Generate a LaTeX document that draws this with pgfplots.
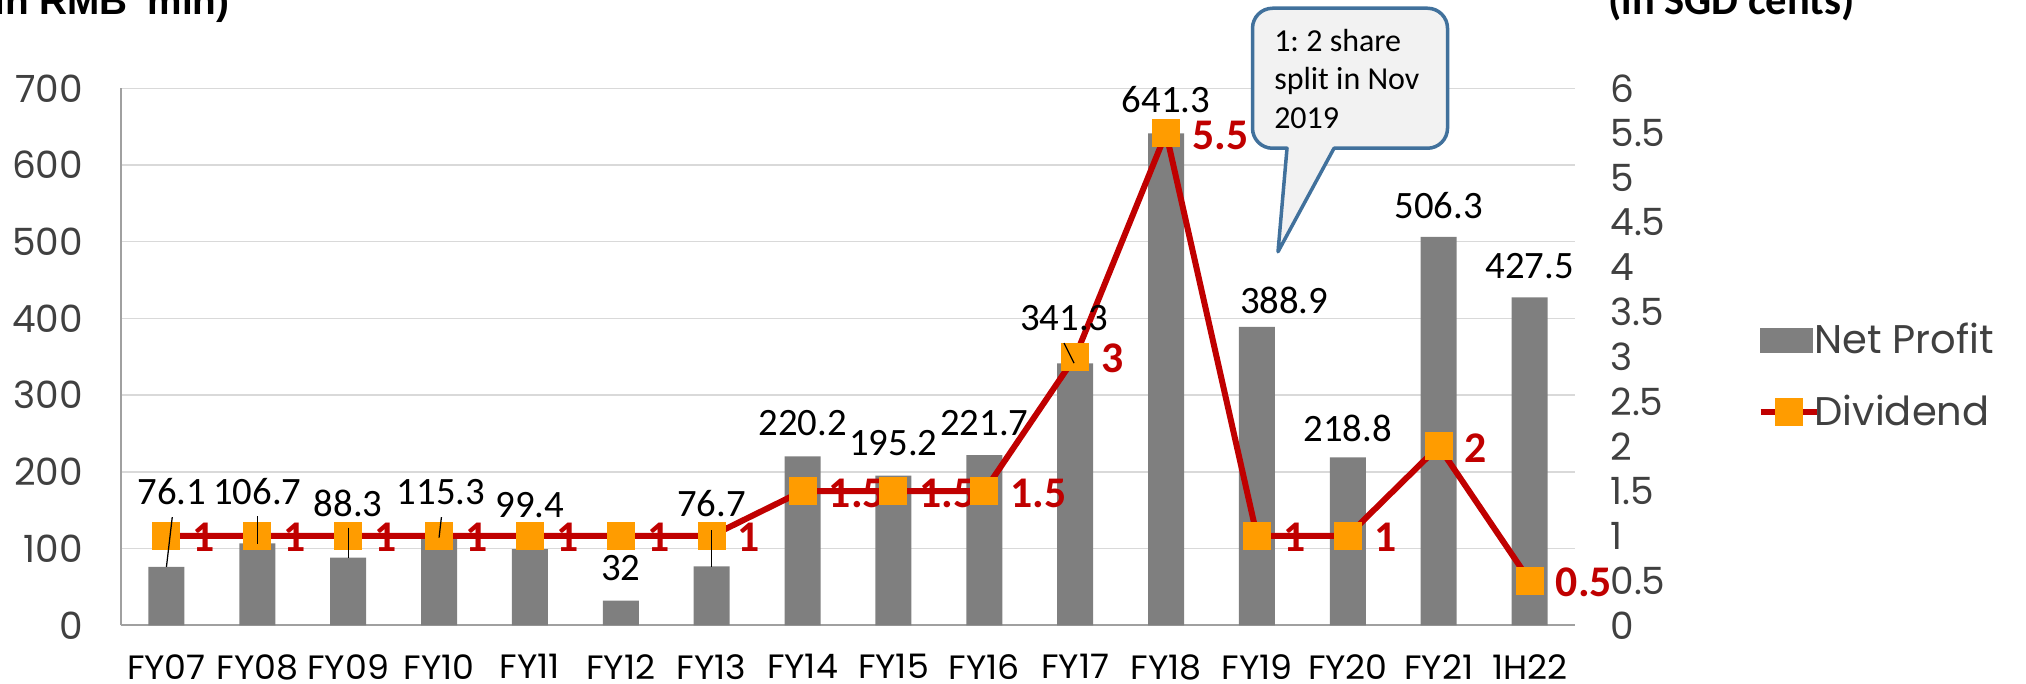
\documentclass[border=0pt]{standalone}
\usepackage{fontspec}
\usepackage{pgfplots}
\usepackage{pgfplotstable}
\pgfplotsset{compat=1.18}
\setmainfont{Carlito}
\newfontfamily\pop{Poppins}
\newfontfamily\popw{Poppins}[FakeStretch=1.03]
\newfontfamily\libsans{Liberation Sans}
\frenchspacing
\definecolor{barg}{HTML}{7F7F7F}
\definecolor{divred}{HTML}{C00000}
\definecolor{mko}{HTML}{FF9C00}
\definecolor{gridg}{HTML}{D9D9D9}
\definecolor{axg}{HTML}{A0A0A0}
\definecolor{tickg}{HTML}{404040}
\definecolor{callb}{HTML}{41719C}
\definecolor{callf}{HTML}{F2F2F2}

\pgfplotstableread{
x np
0 76.1
1 106.7
2 88.3
3 115.3
4 99.4
5 32
6 76.7
7 220.2
8 195.2
9 221.7
10 341.3
11 641.3
12 388.9
13 218.8
14 506.3
15 427.5
}\npdata

\pgfplotstableread{
x dv lab
0 1 1
1 1 1
2 1 1
3 1 1
4 1 1
5 1 1
6 1 1
7 1.5 1.5
8 1.5 1.5
9 1.5 1.5
10 3 3
11 5.5 5.5
12 1 1
13 1 1
14 2 2
15 0.5 0.5
}\dvdata

\pgfplotstableread{
x y lab
0.06 173.8 76.1
1 173.8 106.7
2 158.7 88.3
3.02 173.8 115.3
4 157 99.4
5 74 32
6 158 76.7
7 263.5 220.2
8 237.4 195.2
9 264 221.7
9.88 400.4 341.3
11 685.7 641.3
12.3 424 388.9
13 256 218.8
14 547 506.3
15 468 427.5
}\nplabels

\pgfplotsset{
  base/.style={at={(48.4pt,23.1pt)}, anchor=south west, scale only axis,
    width=581.6pt, height=214.8pt, xmin=-0.5, xmax=15.5},
  divleg/.style={legend image code/.code={\draw[mark repeat=2,mark phase=2,##1] plot coordinates {(0pt,0pt) (11.2pt,0pt) (22.4pt,0pt)};}},
  barleg/.style={legend image code/.code={\fill[barg] (0pt,-4.8pt) rectangle (20.6pt,4.8pt);}},
}

\begin{document}
\begin{tikzpicture}
\useasboundingbox (0,0) rectangle (810.4pt,273.2pt);

% Axis 1: bars, left axis
\begin{axis}[base, ymin=0, ymax=700,
  xtick={0,...,15},
  xticklabels={FY07,FY08,FY09,FY10,FY11,FY12,FY13,FY14,FY15,FY16,FY17,FY18,FY19,FY20,FY21,1H22},
  ytick={0,100,...,700}, yticklabels={0,100,200,300,400,500,600,700},
  major tick length=0pt,
  ymajorgrids, grid style={gridg, line width=0.6pt},
  axis x line*=bottom, axis y line*=left,
  axis line style={axg, line width=0.7pt, -},
  xticklabel style={font=\popw\fontsize{13.5}{15}\selectfont, text=black, anchor=north, inner sep=0pt, yshift=-11.4pt},
  yticklabel style={font=\pop\fontsize{15}{17}\selectfont, text=tickg, anchor=east, inner sep=0pt, xshift=-15pt},
]
\addplot[ybar, bar width=14.4pt, fill=barg, draw=none] table[x=x,y=np] {\npdata};
\end{axis}

% Axis 2: dividend, right axis
\begin{axis}[base, ymin=0, ymax=6, clip=false,
  axis x line=none, axis y line*=right, y axis line style={draw=none},
  ytick={0,0.5,...,6}, yticklabels={0,0.5,1,1.5,2,2.5,3,3.5,4,4.5,5,5.5,6},
  major tick length=0pt,
  yticklabel style={font=\pop\fontsize{15}{17}\selectfont, text=tickg, anchor=west, inner sep=0pt, xshift=14pt},
  legend cell align=left,
  legend style={at={(1.1252,0.464)}, anchor=west, draw=none, fill=none, inner sep=0pt,
    row sep=15pt, column sep=-2pt,
    nodes={inner sep=0pt, font=\pop\fontsize{16}{19}\selectfont, text=tickg}},
]
\addlegendimage{barleg}
\addlegendentry{Net Profit}
\addplot[divred, line width=2.4pt, mark=square*, mark size=5.3pt,
  mark options={fill=mko, draw=mko, line width=0.6pt, rounded corners=1.5pt},
  nodes near coords, point meta=explicit symbolic,
  every node near coord/.append style={font=\bfseries\fontsize{17.5}{19}\selectfont, text=divred, anchor=west, inner sep=0pt, xshift=10.2pt, yshift=-0.8pt},
  divleg
] table[x=x,y=dv,meta=lab] {\dvdata};
\addlegendentry{Dividend}
\end{axis}

% Axis 3: bar value labels and leader lines
\begin{axis}[base, ymin=0, ymax=700, clip=false, hide axis]
\addplot[draw=none, mark=none, nodes near coords, point meta=explicit symbolic,
  every node near coord/.append style={font=\fontsize{15.5}{17}\selectfont, text=black, anchor=center, inner sep=0pt}]
  table[x=x,y=y,meta=lab] {\nplabels};
\addplot[black, line width=0.5pt] coordinates {(0.064,141) (0,76)};
\addplot[black, line width=0.5pt] coordinates {(1,142) (1,106.5)};
\addplot[black, line width=0.5pt] coordinates {(2,127.4) (2,88.3)};
\addplot[black, line width=0.5pt] coordinates {(3.026,141) (3,114.3)};
\addplot[black, line width=0.5pt] coordinates {(6,124) (6,76.5)};
\addplot[black, line width=0.5pt] coordinates {(9.877,367.8) (9.987,341.7)};
\end{axis}

% callout
\draw[callb, line width=1.4pt, fill=callf, line join=round]
  (514.8pt,213.9pt) [rounded corners=8pt] -- (501pt,213.9pt) -- (501pt,269.9pt)
  -- (579pt,269.9pt) -- (579pt,213.9pt) [sharp corners] -- (533.6pt,213.9pt)
  -- (511.2pt,172.5pt) -- cycle;
\node[anchor=base west, inner sep=0pt, font=\fontsize{12.8}{14}\selectfont] at (509.5pt,252.5pt) {1: 2 share};
\node[anchor=base west, inner sep=0pt, font=\fontsize{12.8}{14}\selectfont] at (509.5pt,237.2pt) {split in Nov};
\node[anchor=base west, inner sep=0pt, font=\fontsize{12.8}{14}\selectfont] at (509.5pt,221.9pt) {2019};

% axis titles (cut off at top)
\node[anchor=base east, inner sep=0pt, font=\libsans\bfseries\fontsize{15.5}{17}\selectfont] at (92pt,267.2pt) {(in RMB' mln)};
\node[anchor=base west, inner sep=0pt, font=\bfseries\fontsize{17}{19}\selectfont] at (643.2pt,267.2pt) {(in SGD cents)};
\end{tikzpicture}
\end{document}
